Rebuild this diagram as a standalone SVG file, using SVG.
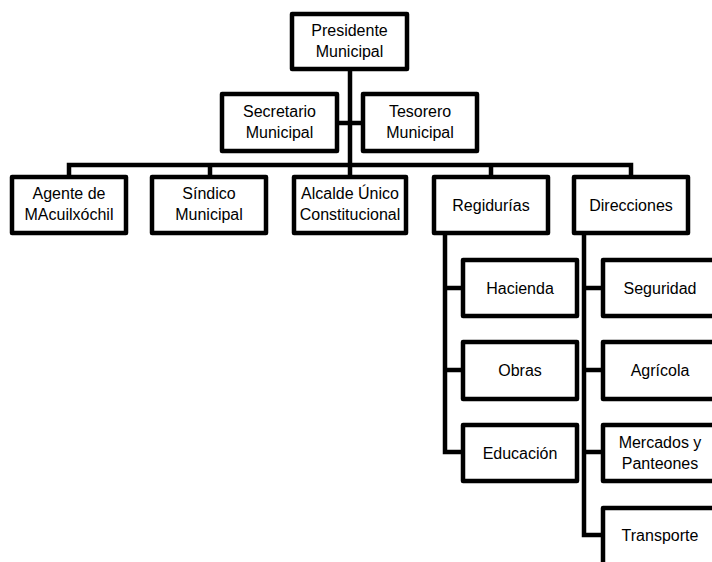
<svg xmlns="http://www.w3.org/2000/svg" width="712" height="562" viewBox="0 0 712 562">
<style>
.box{fill:#fff;stroke:#000;stroke-width:4.5;stroke-linejoin:round}
.con{fill:none;stroke:#000;stroke-width:4.5;stroke-linejoin:miter}
text{font-family:"Liberation Sans",Arial,sans-serif;font-size:16px;fill:#000;text-anchor:middle}
</style>
<rect width="712" height="562" fill="#fff"/>
<g id="connectors">
<path class="con" d="M350 71 V175"/>
<path class="con" d="M339 123 H361"/>
<path class="con" d="M69 175 V165 H631 V175"/>
<path class="con" d="M210 165 V175"/>
<path class="con" d="M491 165 V175"/>
<path class="con" d="M445 235 V452 H461"/>
<path class="con" d="M445 288 H461 M445 370 H461"/>
<path class="con" d="M584 235 V535 H601"/>
<path class="con" d="M584 288 H601 M584 370 H601 M584 452 H601"/>
</g>
<g id="presidente"><rect class="box" x="292" y="14" width="115" height="55"/><text x="349.5" y="36">Presidente</text><text x="349.5" y="57">Municipal</text></g>
<g id="secretario"><rect class="box" x="222" y="94" width="115" height="57"/><text x="279.5" y="117">Secretario</text><text x="279.5" y="138">Municipal</text></g>
<g id="tesorero"><rect class="box" x="363" y="94" width="114" height="57"/><text x="420" y="117">Tesorero</text><text x="420" y="138">Municipal</text></g>
<g id="agente"><rect class="box" x="12" y="177" width="114" height="56"/><text x="69" y="199">Agente de</text><text x="69" y="220">MAcuilxóchil</text></g>
<g id="sindico"><rect class="box" x="152" y="177" width="114" height="56"/><text x="209" y="199">Síndico</text><text x="209" y="220">Municipal</text></g>
<g id="alcalde"><rect class="box" x="294" y="177" width="112" height="56"/><text x="350" y="199">Alcalde Único</text><text x="350" y="220">Constitucional</text></g>
<g id="regidurias"><rect class="box" x="434" y="177" width="114" height="56"/><text x="491" y="211">Regidurías</text></g>
<g id="direcciones"><rect class="box" x="574" y="177" width="114" height="56"/><text x="631" y="211">Direcciones</text></g>
<g id="hacienda"><rect class="box" x="463" y="260" width="114" height="56"/><text x="520" y="294">Hacienda</text></g>
<g id="obras"><rect class="box" x="463" y="342" width="114" height="57"/><text x="520" y="376">Obras</text></g>
<g id="educacion"><rect class="box" x="463" y="425" width="114" height="56"/><text x="520" y="459">Educación</text></g>
<g id="seguridad"><rect class="box" x="603" y="260" width="114" height="56"/><text x="660" y="294">Seguridad</text></g>
<g id="agricola"><rect class="box" x="603" y="342" width="114" height="57"/><text x="660" y="376">Agrícola</text></g>
<g id="mercados"><rect class="box" x="603" y="425" width="114" height="56"/><text x="660" y="448">Mercados y</text><text x="660" y="469">Panteones</text></g>
<g id="transporte"><rect class="box" x="603" y="508" width="114" height="60"/><text x="660" y="541">Transporte</text></g>
</svg>
